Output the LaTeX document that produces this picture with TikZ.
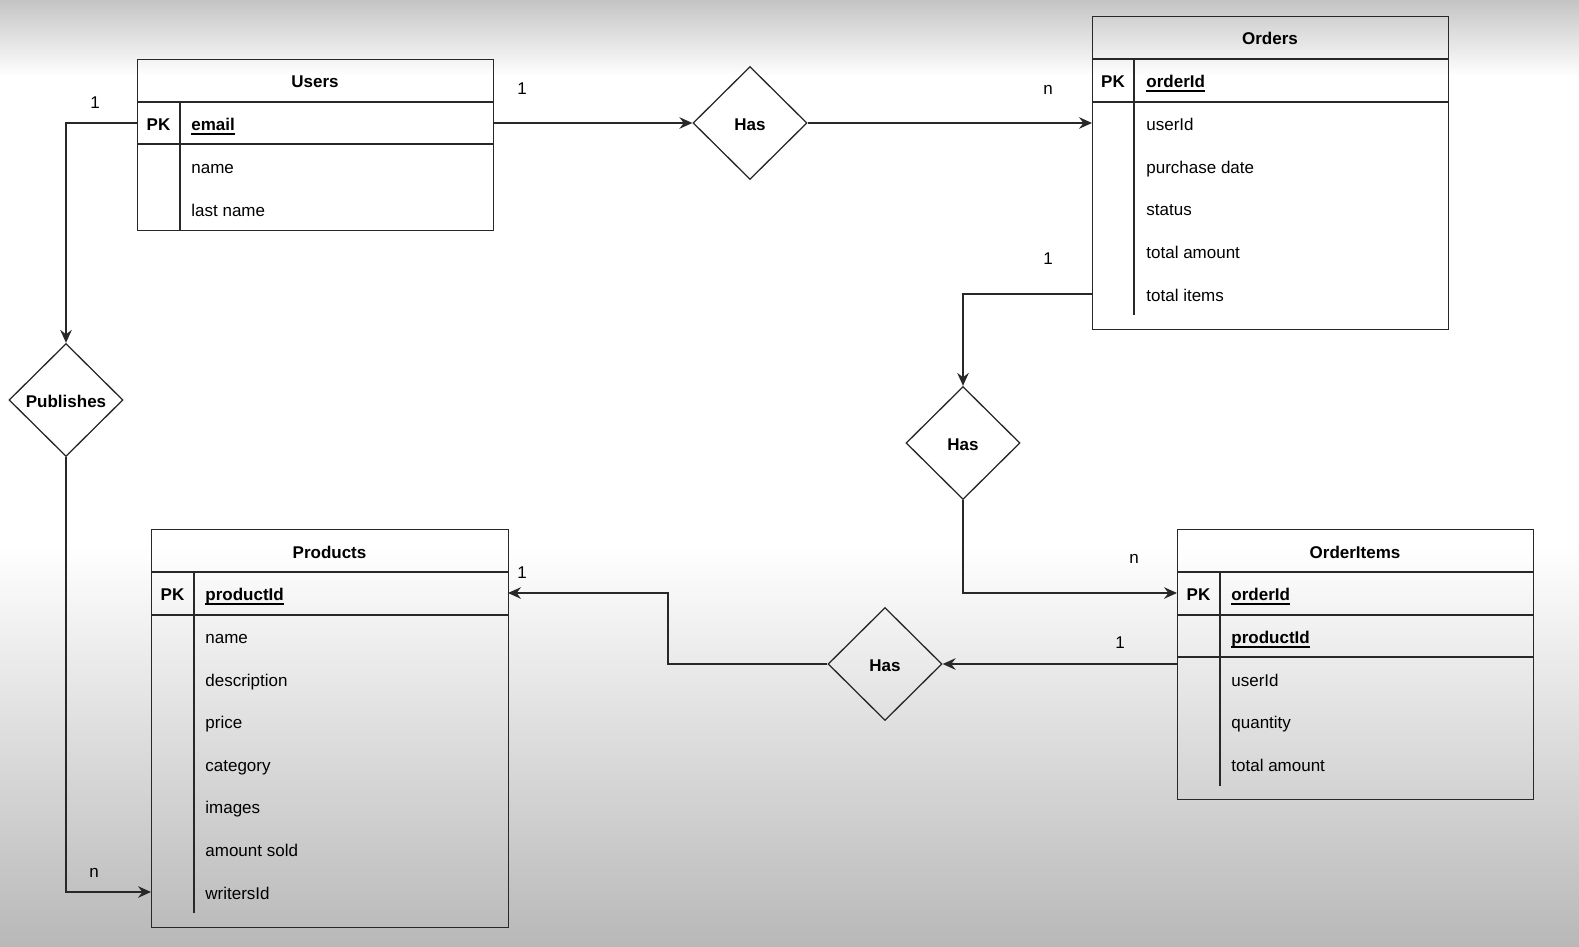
\documentclass[tikz,border=0pt]{standalone}
\usepackage{fontspec}
\setmainfont{Liberation Sans}
\usetikzlibrary{shapes.geometric,arrows.meta}
\definecolor{bgtop}{RGB}{196,196,196}
\definecolor{bgbot}{RGB}{184,184,184}
\definecolor{ln}{RGB}{40,40,40}
\newcommand{\ulfld}[1]{\setbox0\hbox{#1}\rlap{\rule[-2.1pt]{\wd0}{0.65pt}}\box0}
\begin{document}
\begin{tikzpicture}[x=0.5pt,y=-0.5pt,
  font=\fontsize{8.5pt}{10pt}\selectfont,
  tbl/.style={draw=ln, line width=0.65pt, rectangle, anchor=north west, inner sep=0pt, minimum width=178pt},
  sep/.style={draw=ln, line width=0.65pt},
  ttl/.style={font=\fontsize{8.5pt}{10pt}\selectfont\bfseries, inner sep=0pt, text height=8.2pt, text depth=0.7pt},
  fld/.style={anchor=west, inner sep=0pt, text height=8.2pt, text depth=0.7pt},
  key/.style={fld, font=\fontsize{8.5pt}{10pt}\selectfont\bfseries},
  pk/.style={ttl},
  card/.style={inner sep=0pt, text height=8.2pt, text depth=0.7pt},
  rel/.style={diamond, draw=ln, line width=0.65pt, inner sep=0pt, minimum width=57pt, minimum height=56.5pt, text height=8.2pt, text depth=0.7pt, font=\fontsize{8.5pt}{10pt}\selectfont\bfseries},
  conn/.style={draw=ln, line width=0.65pt, -{Stealth[length=6.5pt,width=5.8pt,inset=2.2pt]}}
]
\useasboundingbox (0,0) rectangle (1579,947);
% background
\shade[top color=bgtop, bottom color=white] (0,0) rectangle (1579,76);
\fill[white] (0,75) rectangle (1579,546);
\shade[top color=white, bottom color=bgbot] (0,545) rectangle (1579,947);

% Users
\node[tbl, minimum height=85.5pt] (users) at (137,59) {};
\draw[sep] (137,102) -- (493,102);
\draw[sep] (137,144) -- (493,144);
\draw[sep] (180,102) -- (180,230);
\node[ttl] (usersT) at (315,80.5) {Users};
\node[pk] (usersPK) at (158.5,123) {PK};
\node[key] (uEmail) at (191,123) {\ulfld{email}};
\node[fld] (uName) at (191,166) {name};
\node[fld] (uLast) at (191,209) {last name};

% Orders
\node[tbl, minimum height=156.5pt] (orders) at (1092,16) {};
\draw[sep] (1092,59) -- (1448,59);
\draw[sep] (1092,102) -- (1448,102);
\draw[sep] (1134,59) -- (1134,315);
\node[ttl] (ordersT) at (1270,37.5) {Orders};
\node[pk] (ordersPK) at (1113,80) {PK};
\node[key] (oId) at (1146,80) {\ulfld{orderId}};
\node[fld] (oUser) at (1146,123) {userId};
\node[fld] (oDate) at (1146,166) {purchase date};
\node[fld] (oStatus) at (1146,208) {status};
\node[fld] (oAmount) at (1146,251) {total amount};
\node[fld] (oItems) at (1146,294) {total items};

% Products
\node[tbl, minimum width=178.5pt, minimum height=199pt] (products) at (151,529) {};
\draw[sep] (151,572) -- (508,572);
\draw[sep] (151,615) -- (508,615);
\draw[sep] (194,572) -- (194,913);
\node[ttl] (productsT) at (329.5,550.5) {Products};
\node[pk] (productsPK) at (172.5,593) {PK};
\node[key] (pId) at (205,593) {\ulfld{productId}};
\node[fld] (pName) at (205,636) {name};
\node[fld] (pDesc) at (205,679) {description};
\node[fld] (pPrice) at (205,721) {price};
\node[fld] (pCat) at (205,764) {category};
\node[fld] (pImg) at (205,806) {images};
\node[fld] (pSold) at (205,849) {amount sold};
\node[fld] (pWriter) at (205,892) {writersId};

% OrderItems
\node[tbl, minimum height=135pt] (items) at (1177,529) {};
\draw[sep] (1177,572) -- (1533,572);
\draw[sep] (1177,615) -- (1533,615);
\draw[sep] (1177,657) -- (1533,657);
\draw[sep] (1220,572) -- (1220,786);
\node[ttl] (itemsT) at (1355,550.5) {OrderItems};
\node[pk] (itemsPK) at (1198.5,593) {PK};
\node[key] (iOrder) at (1231,593) {\ulfld{orderId}};
\node[key] (iProd) at (1231,636) {\ulfld{productId}};
\node[fld] (iUser) at (1231,679) {userId};
\node[fld] (iQty) at (1231,721) {quantity};
\node[fld] (iAmount) at (1231,764) {total amount};

% Relationships
\node[rel] (has1) at (750,123) {Has};
\node[rel] (pub) at (66,400) {Publishes};
\node[rel] (has2) at (963,443) {Has};
\node[rel] (has3) at (885,664) {Has};

% connector end points
\coordinate (uR) at (493,123);
\coordinate (uL) at (137,123);
\coordinate (oL1) at (1092,123);
\coordinate (oL2) at (1092,294);
\coordinate (pL) at (151,892);
\coordinate (pR) at (508,593);
\coordinate (iL1) at (1177,593);
\coordinate (iL2) at (1177,664);
\coordinate (bend) at (668,664);

\draw[conn] (uR) -- (has1.west);
\draw[conn] (has1.east) -- (oL1);
\draw[conn] (uL) -| (pub.north);
\draw[conn] (pub.south) |- (pL);
\draw[conn] (oL2) -| (has2.north);
\draw[conn] (has2.south) |- (iL1);
\draw[conn] (iL2) -- (has3.east);
\draw[conn] (has3.west) -- (bend) |- (pR);

% cardinalities
\node[card] (c1) at (95,101) {1};
\node[card] (c2) at (522,87) {1};
\node[card] (c3) at (1048,87) {n};
\node[card] (c4) at (1048,257) {1};
\node[card] (c5) at (1134,556) {n};
\node[card] (c6) at (1120,641) {1};
\node[card] (c7) at (522,571) {1};
\node[card] (c8) at (94,870) {n};
\end{tikzpicture}
\end{document}
